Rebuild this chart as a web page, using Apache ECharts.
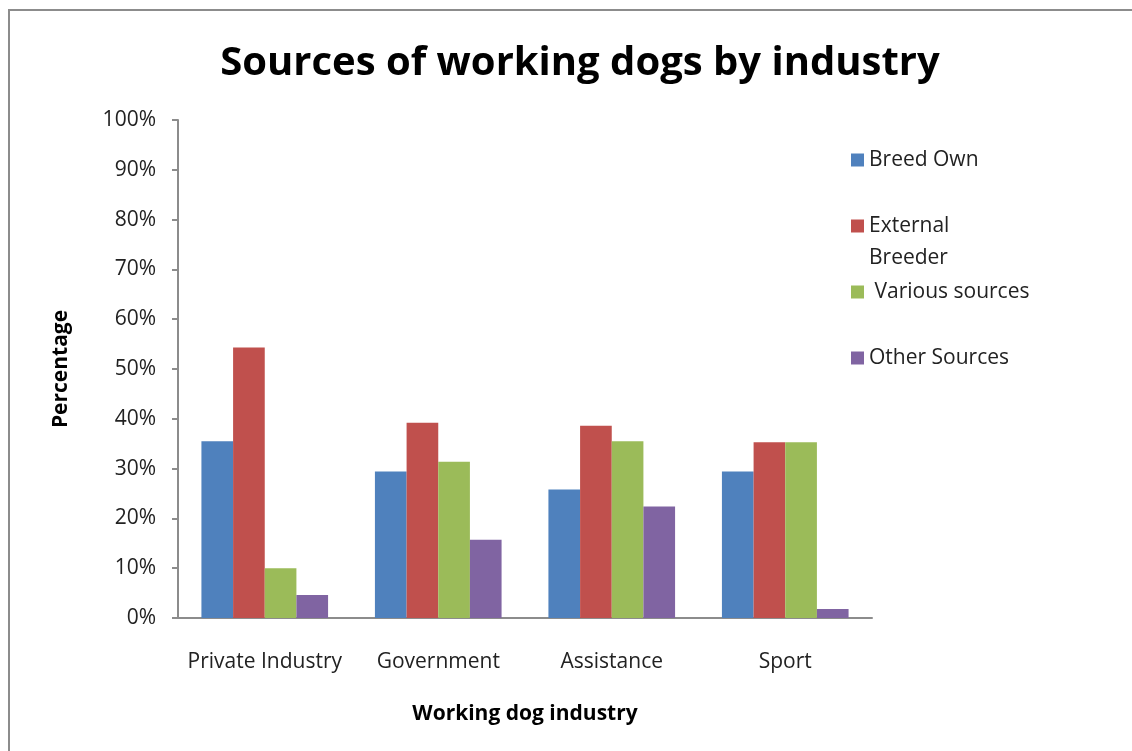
<!DOCTYPE html>
<html>
<head>
<meta charset="utf-8">
<script src="https://cdn.jsdelivr.net/npm/echarts@6/dist/echarts.min.js"></script>
<style>
  html, body { margin: 0; padding: 0; background: #fff; }
  #chart { position: absolute; left: 0; top: 0; width: 1132px; height: 751px; }
  .frame {
    position: absolute; left: 8px; top: 9px; width: 1200px; height: 800px;
    border-top: 2px solid #8c8c8c; border-left: 2px solid #8c8c8c;
    pointer-events: none;
  }
</style>
</head>
<body>
<div id="chart"></div>
<div class="frame"></div>
<script>
// data (percent)
const categories = ['Private Industry', 'Government', 'Assistance', 'Sport']
const seriesNames = ['Breed Own', 'External Breeder', 'Various sources', 'Other Sources']
const breedOwn = [35.5, 29.4, 25.8, 29.4]
const externalBreeder = [54.3, 39.2, 38.6, 35.3]
const variousSources = [10.0, 31.4, 35.5, 35.3]
const otherSources = [4.6, 15.7, 22.4, 1.8]
const yTicks = [0, 10, 20, 30, 40, 50, 60, 70, 80, 90, 100]

const colors = ['#4f81bd', '#c0504d', '#9bbb59', '#8064a2']
const font = "'Open Sans', 'Noto Sans', sans-serif"
const values = [breedOwn, externalBreeder, variousSources, otherSources]

// legend layout: one small legend per entry, like the excel legend
const legendTops = [139, 173, 271, 337]
const legendLabels = {
  'Breed Own': 'Breed Own',
  'External Breeder': ' \nExternal\nBreeder',
  'Various sources': ' Various sources',
  'Other Sources': 'Other Sources',
}

const myChart = echarts.init(document.getElementById('chart'))
const option = {
  animation: false,
  title: {
    text: 'Sources of working dogs by industry',
    left: 575,
    textAlign: 'center',
    top: 39,
    textStyle: { fontFamily: font, fontWeight: 'bold', fontSize: 40, color: '#000' },
  },
  legend: seriesNames.map((name, i) => ({
    data: [name],
    orient: 'vertical',
    left: 846,
    top: legendTops[i],
    itemWidth: 13,
    itemHeight: 13,
    icon: 'rect',
    itemGap: 0,
    formatter: (n) => legendLabels[n],
    textStyle: { fontFamily: font, fontSize: 21, color: '#222', lineHeight: 32 },
  })),
  grid: { left: 178, right: 260, top: 120, bottom: 133 },
  xAxis: {
    type: 'category',
    data: categories,
    name: 'Working dog industry',
    nameLocation: 'middle',
    nameGap: 86,
    nameTextStyle: { fontFamily: font, fontWeight: 'bold', fontSize: 21, color: '#000' },
    axisLine: { lineStyle: { color: '#8c8c8c', width: 2 } },
    axisTick: { show: false },
    axisLabel: { interval: 0, fontFamily: font, fontSize: 21, color: '#222', margin: 34 },
  },
  yAxis: {
    type: 'value',
    min: 0,
    max: 100,
    interval: 10,
    name: 'Percentage',
    nameLocation: 'middle',
    nameGap: 106,
    nameTextStyle: { fontFamily: font, fontWeight: 'bold', fontSize: 21, color: '#000' },
    axisLine: { show: true, lineStyle: { color: '#8c8c8c', width: 2 } },
    axisTick: { show: true, length: 6, lineStyle: { color: '#8c8c8c', width: 2 } },
    axisLabel: {
      fontFamily: font, fontSize: 21, color: '#222', margin: 22,
      formatter: (v) => (yTicks.includes(v) ? v + '%' : ''),
    },
    splitLine: { show: false },
  },
  series: seriesNames.map((name, i) => ({
    name: name,
    type: 'bar',
    data: values[i],
    barGap: 0,
    barCategoryGap: '27%',
    itemStyle: { color: colors[i] },
  })),
}

option && myChart.setOption(option)
</script>
</body>
</html>
